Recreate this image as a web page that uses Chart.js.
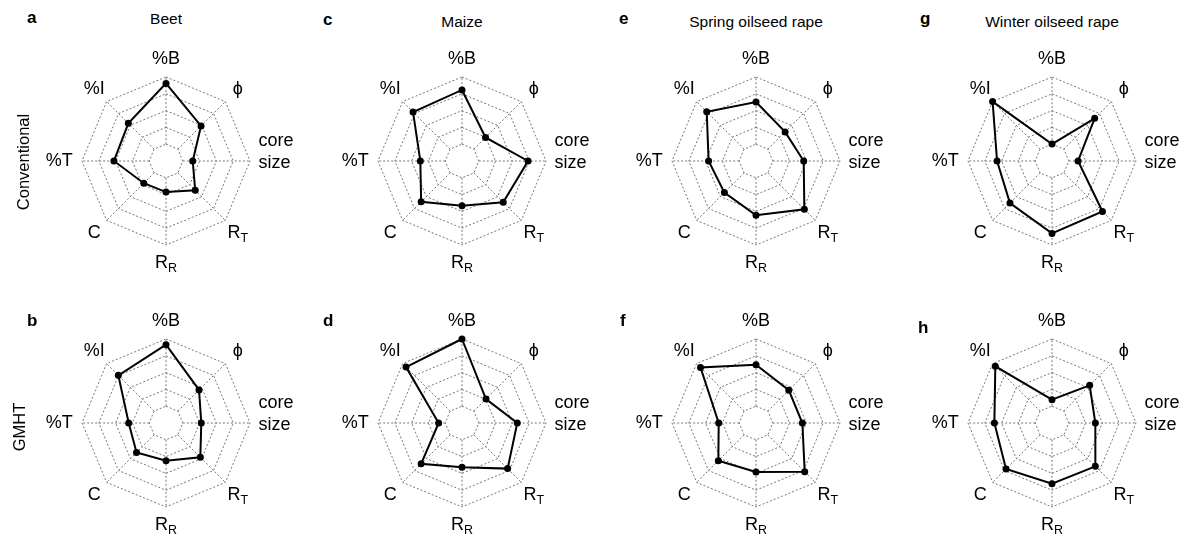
<!DOCTYPE html>
<html>
<head>
<meta charset="utf-8">
<script src="https://cdn.jsdelivr.net/npm/chart.js@4.4.1/dist/chart.umd.min.js"></script>
<style>
  body { margin: 0; background: #fff; font-family: "Liberation Sans", Arial, Helvetica, sans-serif; color: #000; }
  #fig { position: relative; width: 1192px; height: 536px; overflow: hidden; }
  #fig canvas { position: absolute; }
  .letter { position: absolute; font-weight: bold; font-size: 17px; line-height: 1; }
  .title { position: absolute; font-size: 15.5px; line-height: 1; white-space: nowrap; transform: translateX(-50%); }
  .rowlab { position: absolute; font-size: 16.5px; line-height: 1; white-space: nowrap; transform: translate(-50%, -50%) rotate(-90deg); }
</style>
</head>
<body>
<div id="fig"></div>
<script>
// axes, clockwise from the top; "_" marks a subscript
const axisLabels = ['%B', 'ϕ', ['core', 'size'], 'R_T', 'R_R', 'C', '%T', '%I'];
const crops = ['Beet', 'Maize', 'Spring oilseed rape', 'Winter oilseed rape'];
const rowNames = ['Conventional', 'GMHT'];
const panelLetters = [['a', 'c', 'e', 'g'], ['b', 'd', 'f', 'h']];

// values in grid rings (0 = centre, 5 = outer ring)
const beetConv    = [4.62, 2.95, 1.59, 2.46, 1.85, 1.87, 3.10, 3.17];
const beetGM      = [4.66, 2.78, 2.10, 2.89, 2.24, 2.48, 2.22, 4.01];
const maizeConv   = [4.23, 1.98, 3.93, 3.47, 2.66, 3.44, 2.48, 4.12];
const maizeGM     = [5.00, 2.02, 3.29, 3.84, 2.64, 3.44, 1.39, 4.71];
const springConv  = [3.51, 2.45, 2.84, 4.07, 3.23, 2.66, 2.82, 4.15];
const springGM    = [3.47, 2.76, 2.76, 4.10, 2.92, 3.17, 2.22, 4.67];
const winterConv  = [1.01, 3.59, 1.55, 4.25, 4.31, 3.54, 3.27, 5.00];
const winterGM    = [1.39, 3.17, 2.58, 3.65, 3.61, 3.87, 3.43, 4.77];

const panelData = [
  [beetConv, maizeConv, springConv, winterConv],
  [beetGM, maizeGM, springGM, winterGM]
];

const colX = [166, 462, 756, 1052];
const rowY = [161, 423];
const W = 290, H = 262, R = 84;
const gridColor = '#777';

const fig = document.getElementById('fig');

function addDiv(cls, text, style) {
  const d = document.createElement('div');
  d.className = cls;
  d.textContent = text;
  Object.assign(d.style, style);
  fig.appendChild(d);
  return d;
}

// draws a label, with the part after "_" as a smaller lowered subscript
function drawLabel(ctx, text, x, y, align) {
  const big = '18px "Liberation Sans", Arial, sans-serif';
  const small = '12.5px "Liberation Sans", Arial, sans-serif';
  const parts = text.split('_');
  ctx.font = big;
  const w1 = ctx.measureText(parts[0]).width;
  let w2 = 0;
  if (parts[1]) { ctx.font = small; w2 = ctx.measureText(parts[1]).width; }
  const w = w1 + w2;
  let x0 = x - w / 2;
  if (align === 'left') x0 = x;
  if (align === 'right') x0 = x - w;
  ctx.textAlign = 'left';
  ctx.textBaseline = 'middle';
  ctx.font = big;
  ctx.fillText(parts[0], x0, y);
  if (parts[1]) {
    ctx.font = small;
    ctx.fillText(parts[1], x0 + w1, y + 6);
  }
}

const spiderPlugin = {
  id: 'spider',
  beforeDatasetsDraw(chart) {
    // spokes only run from the inner ring to the outer ring
    const s = chart.scales.r;
    const ctx = chart.ctx;
    ctx.save();
    ctx.strokeStyle = gridColor;
    ctx.lineWidth = 1;
    ctx.setLineDash([2, 2]);
    for (let i = 0; i < chart.data.labels.length; i++) {
      const a = s.getPointPosition(i, s.getDistanceFromCenterForValue(1));
      const b = s.getPointPosition(i, s.getDistanceFromCenterForValue(5));
      ctx.beginPath();
      ctx.moveTo(a.x, a.y);
      ctx.lineTo(b.x, b.y);
      ctx.stroke();
    }
    ctx.restore();
  },
  afterDraw(chart) {
    const s = chart.scales.r;
    const ctx = chart.ctx;
    ctx.save();
    ctx.fillStyle = '#000';
    chart.data.labels.forEach((lab, i) => {
      const ang = s.getIndexAngle(i) - Math.PI / 2;
      const c = Math.cos(ang);
      if (Array.isArray(lab)) {
        const p = s.getPointPosition(i, s.drawingArea * 1.1);
        ctx.font = '18px "Liberation Sans", Arial, sans-serif';
        ctx.textAlign = 'left';
        ctx.textBaseline = 'alphabetic';
        ctx.fillText(lab[0], p.x, p.y - 15.5);
        ctx.fillText(lab[1], p.x, p.y + 7);
      } else if (Math.abs(c) > 0.99) {
        const p = s.getPointPosition(i, s.drawingArea * 1.11);
        drawLabel(ctx, lab, p.x, p.y, c > 0 ? 'left' : 'right');
      } else {
        const p = s.getPointPosition(i, s.drawingArea * 1.21);
        drawLabel(ctx, lab, p.x, p.y, 'center');
      }
    });
    ctx.restore();
  }
};

rowNames.forEach((rowName, r) => {
  crops.forEach((crop, c) => {
    const cv = document.createElement('canvas');
    cv.width = W;
    cv.height = H;
    cv.style.left = (colX[c] - W / 2) + 'px';
    cv.style.top = (rowY[r] - H / 2) + 'px';
    fig.appendChild(cv);

    new Chart(cv.getContext('2d'), {
      type: 'radar',
      data: {
        labels: axisLabels,
        datasets: [{
          label: crop + ' ' + rowName,
          data: panelData[r][c],
          borderColor: '#000',
          borderWidth: 2,
          pointRadius: 3.5,
          pointBackgroundColor: '#000',
          pointBorderColor: '#000',
          pointBorderWidth: 0,
          fill: false,
          tension: 0,
          clip: false
        }]
      },
      options: {
        responsive: false,
        animation: false,
        devicePixelRatio: 1,
        layout: { padding: { left: (W - 2 * R) / 2, right: (W - 2 * R) / 2, top: (H - 2 * R) / 2, bottom: (H - 2 * R) / 2 } },
        plugins: { legend: { display: false }, tooltip: { enabled: false } },
        scales: {
          r: {
            min: 0,
            max: 5,
            ticks: { display: false, stepSize: 1 },
            grid: { color: gridColor, lineWidth: 1 },
            border: { dash: [2, 2] },
            angleLines: { display: false },
            pointLabels: { display: false }
          }
        }
      },
      plugins: [spiderPlugin]
    });
  });
});

// panel letters (left, baseline)
const letterPos = [
  [[27, 23.3], [323, 25], [619, 24], [920, 24]],
  [[27, 326.7], [323, 326.7], [620, 326.7], [918, 333]]
];
panelLetters.forEach((row, r) => row.forEach((l, c) => {
  const [x, yb] = letterPos[r][c];
  addDiv('letter', l, { left: x + 'px', top: (yb - 14.4) + 'px' });
}));

// crop titles (centre, baseline)
const titleBase = [24, 26.7, 26.7, 26.7];
crops.forEach((t, c) => {
  addDiv('title', t, { left: colX[c] + 'px', top: (titleBase[c] - 13.1) + 'px' });
});

// row labels
addDiv('rowlab', rowNames[0], { left: '23px', top: '162px' });
addDiv('rowlab', rowNames[1], { left: '19px', top: '427px' });
</script>
</body>
</html>
